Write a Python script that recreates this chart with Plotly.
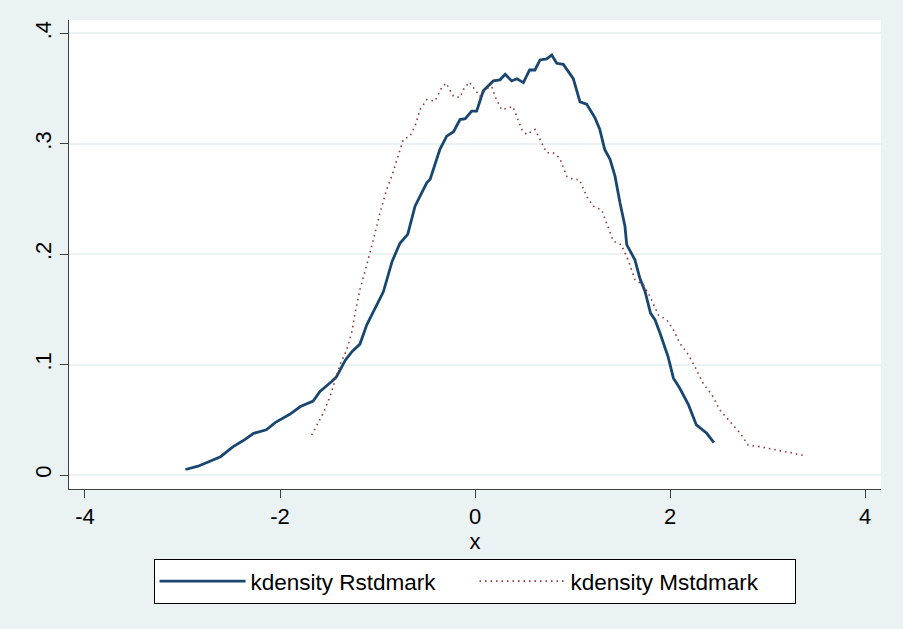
import plotly.graph_objects as go

# kdensity Rstdmark (solid navy)
r_x = [-2.97, -2.84, -2.61, -2.48, -2.38, -2.27, -2.14, -2.05, -1.90, -1.79, -1.66, -1.59, -1.47, -1.42,
       -1.33, -1.26, -1.18, -1.11, -0.94, -0.85, -0.77, -0.69, -0.615, -0.495, -0.46, -0.36, -0.29, -0.22,
       -0.154, -0.10, -0.034, 0.017, 0.085, 0.188, 0.256, 0.31, 0.376, 0.43, 0.496, 0.56, 0.615, 0.667,
       0.735, 0.787, 0.838, 0.906, 1.008, 1.077, 1.145, 1.23, 1.28, 1.33, 1.385, 1.436, 1.487, 1.538,
       1.556, 1.64, 1.69, 1.744, 1.80, 1.846, 1.897, 1.98, 2.035, 2.10, 2.19, 2.27, 2.377, 2.45]
r_y = [.005, .008, .0166, .0257, .031, .0378, .041, .0475, .055, .062, .067, .0756, .0847, .089,
       .104, .112, .1186, .136, .166, .1935, .210, .218, .2435, .2647, .268, .295, .307, .311,
       .322, .3228, .3297, .3297, .348, .357, .358, .363, .357, .359, .3555, .3669, .3669, .376,
       .377, .3805, .373, .372, .359, .338, .336, .3237, .313, .295, .286, .2707, .2466, .2253,
       .2087, .195, .1785, .1663, .1467, .1407, .1286, .1073, .0877, .0786, .0635, .0454, .0378, .0293]

# kdensity Mstdmark (dotted maroon)
m_x = [-1.675, -1.62, -1.556, -1.487, -1.436, -1.385, -1.316, -1.265, -1.23, -1.18, -1.128, -1.077,
       -1.043, -0.974, -0.906, -0.854, -0.803, -0.735, -0.667, -0.615, -0.564, -0.495, -0.41, -0.342,
       -0.297, -0.22, -0.154, -0.12, -0.058, 0.0, 0.05, 0.12, 0.17, 0.22, 0.274, 0.34, 0.387, 0.428,
       0.48, 0.53, 0.615, 0.667, 0.735, 0.80, 0.87, 0.94, 1.008, 1.07, 1.145, 1.213, 1.30, 1.35, 1.42,
       1.50, 1.57, 1.64, 1.726, 1.795, 1.88, 1.966, 2.034, 2.10, 2.19, 2.256, 2.34, 2.43, 2.51, 2.615,
       2.72, 2.80, 2.92, 3.09, 3.23, 3.40]
m_y = [.0363, .045, .056, .071, .086, .0998, .1134, .1286, .1467, .168, .1845, .201,
       .213, .2375, .2586, .2707, .286, .304, .307, .316, .331, .340, .3388, .351,
       .355, .343, .342, .349, .356, .349, .343, .350, .352, .340, .331, .3325, .334, .325,
       .313, .3085, .313, .304, .292, .292, .287, .2707, .2677, .2677, .2525, .2435, .240, .228, .2117,
       .2087, .195, .177, .1724, .1618, .145, .1407, .1316, .1195, .1089, .098, .083, .0726, .059, .0484,
       .0378, .0272, .0257, .0227, .0202, .0172]

x_ticks = [-4, -2, 0, 2, 4]
x_tick_labels = ["-4", "-2", "0", "2", "4"]
y_ticks = [0, 0.1, 0.2, 0.3, 0.4]
y_tick_labels = ["0", ".1", ".2", ".3", ".4"]

BG = "#EAF2F3"
FONT = "Liberation Sans, Arial, sans-serif"

fig = go.Figure()
fig.add_trace(go.Scatter(x=r_x, y=r_y, mode="lines", name="kdensity Rstdmark",
                         line=dict(color="#1A476F", width=2.8)))
fig.add_trace(go.Scatter(x=m_x, y=m_y, mode="lines", name="kdensity Mstdmark",
                         line=dict(color="#90353B", width=1.6, dash="1.5px,4px")))

fig.update_layout(
    width=903, height=629,
    margin=dict(l=69, r=22, t=20, b=140),
    paper_bgcolor=BG, plot_bgcolor="white",
    font=dict(family=FONT, size=22, color="black"),
    showlegend=True,
    legend=dict(orientation="h", xref="container", yref="container",
                x=0.5255, xanchor="center", y=1 - 559 / 629, yanchor="top",
                bgcolor="white", bordercolor="black", borderwidth=1,
                font=dict(family=FONT, size=22.5), itemwidth=86, entrywidth=219),
)
fig.update_xaxes(range=[-4.164, 4.164], tickvals=x_ticks, ticktext=x_tick_labels,
                 showgrid=False, zeroline=False, showline=True, linecolor="#404040", linewidth=1,
                 ticks="outside", ticklen=8, tickcolor="#404040", tickwidth=1,
                 title=dict(text="x", standoff=0, font=dict(size=22)))
fig.update_yaxes(range=[-0.01268, 0.4122], tickvals=y_ticks, ticktext=y_tick_labels,
                 showgrid=True, gridcolor=BG, gridwidth=2, zeroline=False,
                 showline=True, linecolor="#404040", linewidth=1,
                 ticks="outside", ticklen=8, tickcolor="#404040", tickwidth=1, tickangle=-90)

fig.write_html("out.html", config={"displayModeBar": False},
               post_script="document.body.style.margin='0';document.body.style.background='%s';" % BG)
